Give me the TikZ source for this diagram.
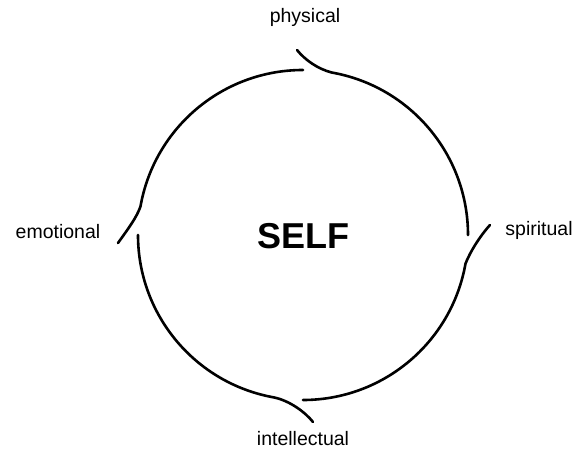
\documentclass[tikz,border=0pt]{standalone}
\usepackage{fontspec}
\setmainfont{Liberation Sans}
\begin{document}
\begin{tikzpicture}[x=1pt,y=1pt,
  stroke/.style={line width=2.6pt, line cap=round, line join=round, black},
  lbl/.style={font=\fontsize{19.5}{20}\selectfont, inner sep=0pt}]
\useasboundingbox (0,0) rectangle (576,453);
\coordinate (c) at (303,218);
% labels
\node[lbl] (phys) at (305,436) {physical};
\node[lbl] (emo) at (58,221) {emotional};
\node[lbl] (spir) at (539,223) {spiritual};
\node[lbl] (intel) at (303,14) {intellectual};
\node[font=\fontsize{36}{36}\selectfont\bfseries, inner sep=0pt] (self) at (303,217) {SELF};
% tails start coordinates
\coordinate (ta) at (118,210);
\coordinate (tb) at (297,403);
\coordinate (tc) at (490,228);
\coordinate (td) at (313,31);
% strokes
\draw[stroke] (ta) .. controls (128,224) and (137,236) .. ([shift={(170:165)}]c) arc[start angle=170, end angle=90, radius=165];
\draw[stroke] (tb) .. controls (305,393) and (318,384) .. ([shift={(80:165)}]c) arc[start angle=80, end angle=0, radius=165];
\draw[stroke] (tc) .. controls (480,217) and (470,201) .. ([shift={(-10:165)}]c) arc[start angle=-10, end angle=-90, radius=165];
\draw[stroke] (td) .. controls (305,41) and (290,52) .. ([shift={(-100:165)}]c) arc[start angle=-100, end angle=-180, radius=165];
\end{tikzpicture}
\end{document}
